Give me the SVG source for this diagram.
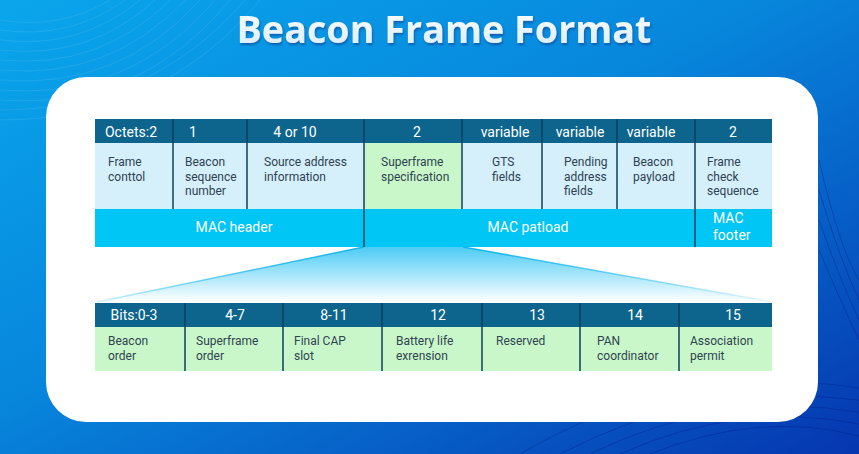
<svg xmlns="http://www.w3.org/2000/svg" width="859" height="454" viewBox="0 0 859 454">
<defs>
<linearGradient id="bg" x1="0" y1="0" x2="1" y2="1">
<stop offset="0" stop-color="#0aa6ec"/>
<stop offset="0.45" stop-color="#0786dc"/>
<stop offset="1" stop-color="#0636b0"/>
</linearGradient>
<linearGradient id="funnel" x1="0" y1="0" x2="0" y2="1">
<stop offset="0" stop-color="#4cccf5"/>
<stop offset="1" stop-color="#ffffff"/>
</linearGradient>
<linearGradient id="edgeL" x1="1" y1="0" x2="0" y2="0">
<stop offset="0" stop-color="#12b4ec"/>
<stop offset="1" stop-color="#12b4ec" stop-opacity="0.2"/>
</linearGradient>
<linearGradient id="edgeR" x1="0" y1="0" x2="1" y2="0">
<stop offset="0" stop-color="#12b4ec"/>
<stop offset="1" stop-color="#12b4ec" stop-opacity="0.1"/>
</linearGradient>
<linearGradient id="title" x1="0" y1="0" x2="0" y2="1">
<stop offset="0" stop-color="#ffffff"/>
<stop offset="1" stop-color="#d6ecfb"/>
</linearGradient>
<filter id="shadow" x="-10%" y="-30%" width="120%" height="160%">
<feDropShadow dx="1" dy="2" stdDeviation="1.2" flood-color="#0a3a8a" flood-opacity="0.6"/>
</filter>
</defs>
<style>
.hd{fill:#0d658e}
.cb{fill:#d5effb}
.cg{fill:#c9f7c9}
.mac{fill:#00c6f5}
.div{stroke:#0b3f5e;stroke-width:1.5}
.ht{font-family:Roboto,"Open Sans",sans-serif;font-size:14px;fill:#ffffff}
.ct{font-family:Roboto,"Open Sans",sans-serif;font-size:12px;fill:#2f4352}
.mt{font-family:Roboto,"Open Sans",sans-serif;font-size:14px;fill:#ffffff}
.sw{fill:none;stroke:#ffffff;stroke-opacity:0.12;stroke-width:0.8}
.swd{fill:none;stroke:#001a80;stroke-opacity:0.35;stroke-width:1}
</style>
<rect x="0" y="0" width="859" height="454" fill="url(#bg)"/>
<g id="background-lines">
<path class="sw" d="M0 20 Q60 30 110 0"/>
<path class="sw" d="M0 30 Q70 40 125 0"/>
<path class="sw" d="M0 40 Q80 50 140 0"/>
<path class="sw" d="M0 50 Q90 60 155 0"/>
<path class="sw" d="M0 60 Q100 70 170 0"/>
<path class="sw" d="M0 70 Q110 80 185 0"/>
<path class="sw" d="M0 80 Q120 90 200 0"/>
<path class="sw" d="M0 90 Q130 100 215 0"/>
<path class="sw" d="M0 100 Q140 110 230 0"/>
<path class="sw" d="M0 110 Q150 110 245 0"/>
<path class="sw" d="M0 120 Q160 120 260 0"/>
<path class="swd" d="M560 454 Q700 380 859 400"/>
<path class="swd" d="M590 454 Q720 390 859 412"/>
<path class="swd" d="M620 454 Q740 400 859 424"/>
<path class="swd" d="M650 454 Q760 410 859 436"/>
<path class="swd" d="M520 454 Q680 360 859 388"/>
<path class="swd" d="M819 160 Q840 250 859 280"/>
<path class="swd" d="M819 190 Q840 260 859 300"/>
<path class="swd" d="M819 220 Q840 280 859 320"/>
<path class="swd" d="M819 250 Q840 300 859 340"/>
</g>
<text x="444" y="43" text-anchor="middle" font-family="'Open Sans','Noto Sans',sans-serif" font-weight="bold" font-size="38" fill="url(#title)" filter="url(#shadow)" textLength="415" lengthAdjust="spacingAndGlyphs">Beacon Frame Format</text>
<rect id="panel" x="46" y="77" width="772" height="345" rx="40" ry="40" fill="#ffffff"/>

<g id="connectors">
<polygon points="364,247 463,247 772,302 95,302" fill="url(#funnel)"/>
<line x1="364" y1="247" x2="97" y2="302" stroke="url(#edgeL)" stroke-width="1.5"/>
<line x1="463" y1="247" x2="772" y2="302" stroke="url(#edgeR)" stroke-width="1.5"/>
</g>

<g id="frame-control">
<rect class="hd" x="95" y="119" width="78" height="24"/>
<rect class="cb" x="95" y="143" width="78" height="66"/>
<text class="ht" x="131" y="137" text-anchor="middle">Octets:2</text>
<text class="ct" x="108" y="166">Frame</text>
<text class="ct" x="108" y="180.5">conttol</text>
</g>
<g id="beacon-sequence-number">
<rect class="hd" x="173" y="119" width="74" height="24"/>
<rect class="cb" x="173" y="143" width="74" height="66"/>
<text class="ht" x="193" y="137" text-anchor="middle">1</text>
<text class="ct" x="185" y="166">Beacon</text>
<text class="ct" x="185" y="180.5">sequence</text>
<text class="ct" x="185" y="195">number</text>
</g>
<g id="source-address">
<rect class="hd" x="247" y="119" width="117" height="24"/>
<rect class="cb" x="247" y="143" width="117" height="66"/>
<text class="ht" x="295" y="137" text-anchor="middle">4 or 10</text>
<text class="ct" x="264" y="166">Source address</text>
<text class="ct" x="264" y="180.5">information</text>
</g>
<g id="superframe-specification">
<rect class="hd" x="364" y="119" width="98" height="24"/>
<rect class="cg" x="364" y="143" width="98" height="66"/>
<text class="ht" x="417" y="137" text-anchor="middle">2</text>
<text class="ct" x="381" y="166">Superframe</text>
<text class="ct" x="381" y="180.5">specification</text>
</g>
<g id="gts-fields">
<rect class="hd" x="462" y="119" width="80" height="24"/>
<rect class="cb" x="462" y="143" width="80" height="66"/>
<text class="ht" x="505" y="137" text-anchor="middle">variable</text>
<text class="ct" x="492" y="166">GTS</text>
<text class="ct" x="492" y="180.5">fields</text>
</g>
<g id="pending-address-fields">
<rect class="hd" x="542" y="119" width="75" height="24"/>
<rect class="cb" x="542" y="143" width="75" height="66"/>
<text class="ht" x="580" y="137" text-anchor="middle">variable</text>
<text class="ct" x="564" y="166">Pending</text>
<text class="ct" x="564" y="180.5">address</text>
<text class="ct" x="564" y="195">fields</text>
</g>
<g id="beacon-payload">
<rect class="hd" x="617" y="119" width="78" height="24"/>
<rect class="cb" x="617" y="143" width="78" height="66"/>
<text class="ht" x="651" y="137" text-anchor="middle">variable</text>
<text class="ct" x="633" y="166">Beacon</text>
<text class="ct" x="633" y="180.5">payload</text>
</g>
<g id="frame-check-sequence">
<rect class="hd" x="695" y="119" width="77" height="24"/>
<rect class="cb" x="695" y="143" width="77" height="66"/>
<text class="ht" x="733" y="137" text-anchor="middle">2</text>
<text class="ct" x="707" y="166">Frame</text>
<text class="ct" x="707" y="180.5">check</text>
<text class="ct" x="707" y="195">sequence</text>
</g>
<g id="mac-header">
<rect class="mac" x="95" y="209" width="269" height="38"/>
<text class="mt" x="234" y="232" text-anchor="middle">MAC header</text>
</g>
<g id="mac-payload">
<rect class="mac" x="364" y="209" width="331" height="38"/>
<text class="mt" x="528" y="232" text-anchor="middle">MAC patload</text>
</g>
<g id="mac-footer">
<rect class="mac" x="695" y="209" width="77" height="38"/>
<text class="mt" x="713" y="223">MAC</text>
<text class="mt" x="713" y="240">footer</text>
</g>
<g id="top-dividers">
<line class="div" x1="173" y1="119" x2="173" y2="209"/>
<line class="div" x1="247" y1="119" x2="247" y2="209"/>
<line class="div" x1="364" y1="119" x2="364" y2="247"/>
<line class="div" x1="462" y1="119" x2="462" y2="209"/>
<line class="div" x1="542" y1="119" x2="542" y2="209"/>
<line class="div" x1="617" y1="119" x2="617" y2="209"/>
<line class="div" x1="695" y1="119" x2="695" y2="247"/>
</g>

<g id="beacon-order">
<rect class="hd" x="95" y="303" width="90" height="24"/>
<rect class="cg" x="95" y="327" width="90" height="44"/>
<text class="ht" x="134" y="320" text-anchor="middle">Bits:0-3</text>
<text class="ct" x="108" y="345">Beacon</text>
<text class="ct" x="108" y="359.5">order</text>
</g>
<g id="superframe-order">
<rect class="hd" x="185" y="303" width="98" height="24"/>
<rect class="cg" x="185" y="327" width="98" height="44"/>
<text class="ht" x="235" y="320" text-anchor="middle">4-7</text>
<text class="ct" x="196" y="345">Superframe</text>
<text class="ct" x="196" y="359.5">order</text>
</g>
<g id="final-cap-slot">
<rect class="hd" x="283" y="303" width="99" height="24"/>
<rect class="cg" x="283" y="327" width="99" height="44"/>
<text class="ht" x="334" y="320" text-anchor="middle">8-11</text>
<text class="ct" x="294" y="345">Final CAP</text>
<text class="ct" x="294" y="359.5">slot</text>
</g>
<g id="battery-life-extension">
<rect class="hd" x="382" y="303" width="100" height="24"/>
<rect class="cg" x="382" y="327" width="100" height="44"/>
<text class="ht" x="438" y="320" text-anchor="middle">12</text>
<text class="ct" x="396" y="345">Battery life</text>
<text class="ct" x="396" y="359.5">exrension</text>
</g>
<g id="reserved">
<rect class="hd" x="482" y="303" width="98" height="24"/>
<rect class="cg" x="482" y="327" width="98" height="44"/>
<text class="ht" x="537" y="320" text-anchor="middle">13</text>
<text class="ct" x="496" y="345">Reserved</text>
</g>
<g id="pan-coordinator">
<rect class="hd" x="580" y="303" width="99" height="24"/>
<rect class="cg" x="580" y="327" width="99" height="44"/>
<text class="ht" x="635" y="320" text-anchor="middle">14</text>
<text class="ct" x="597" y="345">PAN</text>
<text class="ct" x="597" y="359.5">coordinator</text>
</g>
<g id="association-permit">
<rect class="hd" x="679" y="303" width="93" height="24"/>
<rect class="cg" x="679" y="327" width="93" height="44"/>
<text class="ht" x="733" y="320" text-anchor="middle">15</text>
<text class="ct" x="690" y="345">Association</text>
<text class="ct" x="690" y="359.5">permit</text>
</g>
<g id="bottom-dividers">
<line class="div" x1="185" y1="303" x2="185" y2="371"/>
<line class="div" x1="283" y1="303" x2="283" y2="371"/>
<line class="div" x1="382" y1="303" x2="382" y2="371"/>
<line class="div" x1="482" y1="303" x2="482" y2="371"/>
<line class="div" x1="580" y1="303" x2="580" y2="371"/>
<line class="div" x1="679" y1="303" x2="679" y2="371"/>
</g>
</svg>
